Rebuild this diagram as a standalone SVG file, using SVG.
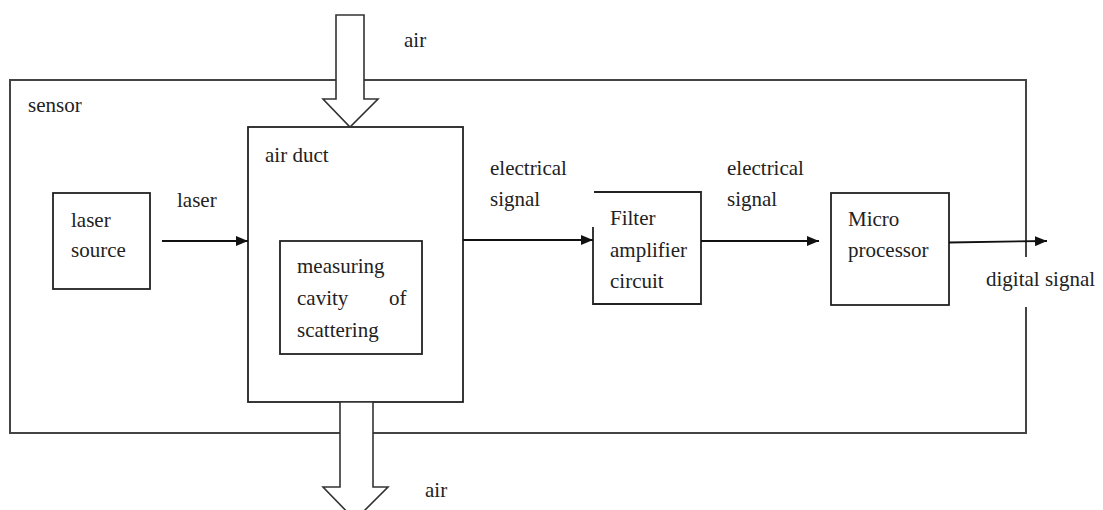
<svg xmlns="http://www.w3.org/2000/svg" width="1103" height="510" viewBox="0 0 1103 510" font-family="Liberation Serif, DejaVu Serif, serif">
<defs>
<marker id="ah" viewBox="0 0 12 10" refX="12" refY="5" markerWidth="12" markerHeight="10" markerUnits="userSpaceOnUse" orient="auto">
<path d="M0,0 L12,5 L0,10 Z" fill="#111"/>
</marker>
</defs>
<style>
.box{fill:none;stroke:#222;stroke-width:1.8}
.frame{fill:none;stroke:#444;stroke-width:2}
.big{fill:#fff;stroke:#333;stroke-width:1.6}
.conn{fill:none;stroke:#111;stroke-width:1.8}
text{font-family:'Liberation Serif','DejaVu Serif',serif;font-size:21px;fill:#222}
</style>
<rect width="1103" height="510" fill="#fff"/>
<g id="sensor">
<path class="frame" d="M1026,257 V80 H10 V433 H1026 V307"/>
<text x="28" y="112">sensor</text>
</g>
<g id="laser-source">
<rect class="box" x="53" y="193" width="97" height="96"/>
<text x="71" y="227">laser</text>
<text x="71" y="257">source</text>
</g>
<g id="air-duct">
<rect class="box" x="248" y="127" width="215" height="275"/>
<text x="265" y="162">air duct</text>
</g>
<g id="measuring-cavity">
<rect class="box" x="280" y="241" width="142" height="113"/>
<text x="297" y="273">measuring</text>
<text x="297" y="305">cavity</text>
<text x="389" y="305">of</text>
<text x="297" y="337">scattering</text>
</g>
<g id="filter">
<path class="box" d="M594,192 H701 V304 H593 V227"/>
<text x="610" y="225">Filter</text>
<text x="610" y="257">amplifier</text>
<text x="610" y="288">circuit</text>
</g>
<g id="microprocessor">
<rect class="box" x="831" y="193" width="118" height="112"/>
<text x="848" y="226">Micro</text>
<text x="848" y="257">processor</text>
</g>
<g id="air-in">
<path class="big" d="M336,15 H364 V99 H378 L350,127 L323,99 H336 Z"/>
<text x="404" y="47">air</text>
</g>
<g id="air-out">
<path class="big" d="M340,402 H373 V487 H388 L355,520 L323,487 H340 Z"/>
<text x="425" y="497">air</text>
</g>
<g id="connectors">
<line class="conn" x1="162" y1="241" x2="248" y2="241" marker-end="url(#ah)"/>
<text x="177" y="207">laser</text>
<line class="conn" x1="463" y1="240" x2="593" y2="240" marker-end="url(#ah)"/>
<text x="490" y="175">electrical</text>
<text x="490" y="206">signal</text>
<line class="conn" x1="701" y1="241" x2="819" y2="241" marker-end="url(#ah)"/>
<text x="727" y="175">electrical</text>
<text x="727" y="206">signal</text>
<line class="conn" x1="949" y1="242.5" x2="1047" y2="241" marker-end="url(#ah)"/>
<text x="986" y="286">digital signal</text>
</g>
</svg>
